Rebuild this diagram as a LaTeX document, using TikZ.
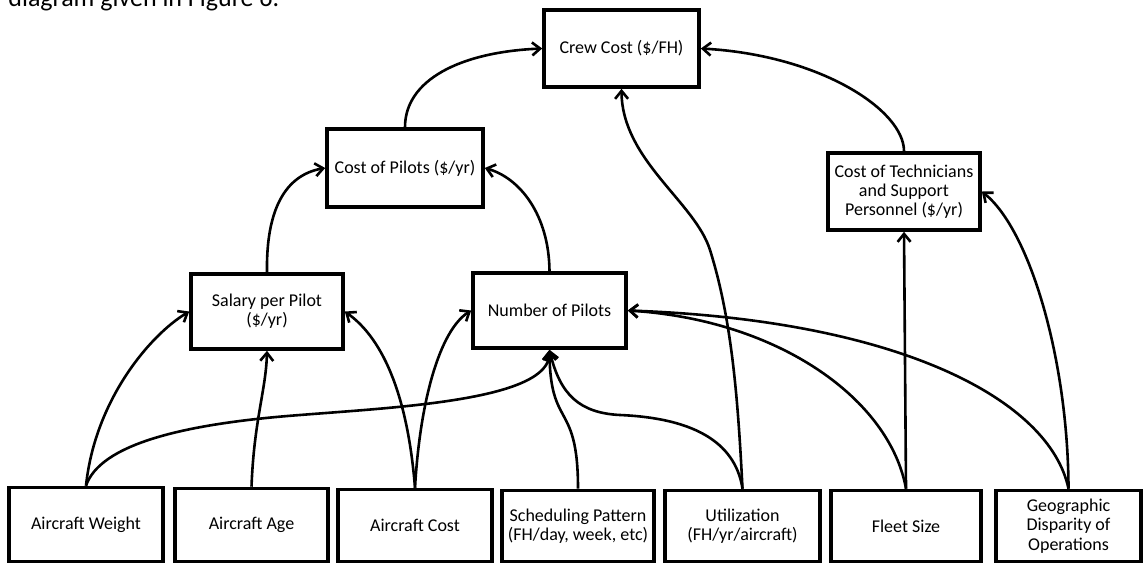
\documentclass[tikz,border=0pt]{standalone}
\usepackage{fontspec}
\setmainfont{Carlito}
\usetikzlibrary{arrows.meta}
\begin{document}
\begin{tikzpicture}[x=0.5pt,y=-0.5pt,
  box/.style={draw, line width=1.8pt, rectangle, align=center, inner sep=0pt, font=\fontsize{9}{9.6}\selectfont},
  conn/.style={line width=1.3pt, -{Straight Barb[length=4pt,width=6.5pt]}},
  intro/.style={anchor=base west, font=\fontsize{13}{15}\selectfont, inner sep=0pt}
]
\useasboundingbox (0,0) rectangle (1144,563);
\clip (0,0) rectangle (1144,563);
\node[intro] (introtext) at (8,6) {diagram given in Figure 6.};

\node[box, minimum width=77.5pt, minimum height=38.5pt] (crew) at (621.5,48.5) {Crew Cost (\$/FH)};
\node[box, minimum width=78pt, minimum height=39pt] (cop) at (405,168) {Cost of Pilots (\$/yr)};
\node[box, minimum width=76pt, minimum height=38.5pt] (tech) at (904,191.5) {Cost of Technicians\\and Support\\Personnel (\$/yr)};
\node[box, minimum width=76pt, minimum height=37.5pt] (sal) at (267,311.5) {Salary per Pilot\\(\$/yr)};
\node[box, minimum width=76.5pt, minimum height=37.5pt] (nop) at (549.5,310.5) {Number of Pilots};

\node[box, minimum width=77pt, minimum height=37pt] (wt) at (86,524.5) {Aircraft Weight};
\node[box, minimum width=76.5pt, minimum height=36.5pt] (age) at (251.5,525) {Aircraft Age};
\node[box, minimum width=77pt, minimum height=36pt] (cost) at (415,525.5) {Aircraft Cost};
\node[box, minimum width=76pt, minimum height=35.5pt] (sch) at (578,526) {Scheduling Pattern\\(FH/day, week, etc)};
\node[box, minimum width=77.5pt, minimum height=35.5pt] (util) at (742.5,526) {Utilization\\(FH/yr/aircraft)};
\node[box, minimum width=75pt, minimum height=35.5pt] (fleet) at (906,526) {Fleet Size};
\node[box, minimum width=72.5pt, minimum height=35.5pt] (geo) at (1068.5,526) {Geographic\\Disparity of\\Operations};

% upper level
\draw[conn] (cop.north) .. controls (405,80) and (460,52) .. (crew.west);
\draw[conn] (tech.north) .. controls (904,110) and (820,55) .. (crew.east);
\draw[conn] (sal.north) .. controls (266,210) and (285,175) .. (cop.west);
\draw[conn] (nop.north) .. controls (549,215) and (520,178) .. (cop.east);

% from bottom row
\draw[conn] (wt.north) .. controls (95,400) and (150,335) .. (sal.west);
\draw[conn] (wt.north) .. controls (100,445) and (180,424) .. (300,415)
   .. controls (400,407) and (550,400) .. (nop.south);
\draw[conn] (age.north) .. controls (254,420) and (266,390) .. (sal.south);
\draw[conn] (cost.north) .. controls (408,400) and (385,340) .. (sal.east);
\draw[conn] (cost.north) .. controls (420,400) and (440,330) .. (nop.west);
\draw[conn] (sch.north) .. controls (578,400) and (550,430) .. (nop.south);
\draw[conn] (util.north) .. controls (735,440) and (690,418) .. (620,415)
   .. controls (580,413) and (560,395) .. (nop.south);
\draw[conn] (util.north) .. controls (738,400) and (732,320) .. (710,250)
   .. controls (695,202) and (622,160) .. (crew.south);
\draw[conn] (fleet.north) -- (tech.south);
\draw[conn] (fleet.north) .. controls (890,400) and (780,320) .. (nop.east);
\draw[conn] (geo.north) .. controls (1050,400) and (900,320) .. (nop.east);
\draw[conn] (geo.north) .. controls (1068,360) and (1030,230) .. (tech.east);
\end{tikzpicture}
\end{document}
